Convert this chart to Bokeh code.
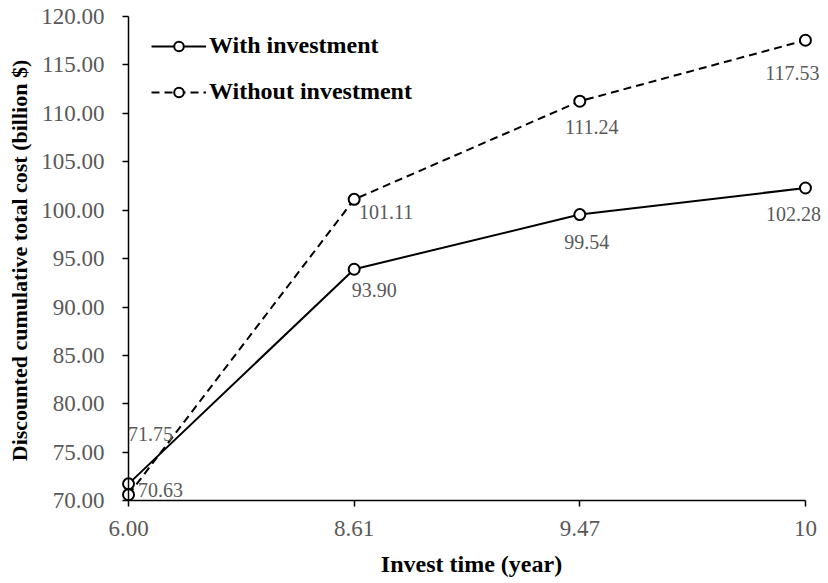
from bokeh.plotting import figure
from bokeh.models import (Range1d, FixedTicker, NumeralTickFormatter, ColumnDataSource,
                          Legend, LegendItem, LinearAxis)
from bokeh.core.properties import value
from bokeh.embed import file_html
from bokeh.resources import INLINE

categories = ["6.00", "8.61", "9.47", "10"]
with_investment = [71.75, 93.90, 99.54, 102.28]
without_investment = [70.63, 101.11, 111.24, 117.53]
y_ticks = [70, 75, 80, 85, 90, 95, 100, 105, 110, 115, 120]

xs = list(range(len(categories)))

# label offsets in screen pixels (style only)
with_dx = [22, 20, 7, -12]
with_dy = [-50, 21, 27, 26]
without_dx = [32, 32, 12, -13]
without_dy = [-5, 13, 26, 33]

FONT = "Liberation Serif"
GREY = "#595959"

p = figure(frame_width=704, frame_height=500, output_backend="svg", toolbar_location=None,
           x_range=Range1d(-0.04, 3.08), y_range=Range1d(69, 120.6),
           min_border_left=119, min_border_right=2, min_border_top=10, min_border_bottom=65)
p.outline_line_color = None
p.xgrid.visible = False
p.ygrid.visible = False

s_with = ColumnDataSource(dict(x=xs, y=with_investment, t=["%.2f" % v for v in with_investment],
                               dx=with_dx, dy=with_dy))
s_without = ColumnDataSource(dict(x=xs, y=without_investment, t=["%.2f" % v for v in without_investment],
                                  dx=without_dx, dy=without_dy))

l1 = p.line("x", "y", source=s_with, line_color="black", line_width=2)
m1 = p.scatter("x", "y", source=s_with, marker="circle", size=11, fill_color="white",
               line_color="black", line_width=2)
l2 = p.line("x", "y", source=s_without, line_color="black", line_width=2, line_dash="8 5")
m2 = p.scatter("x", "y", source=s_without, marker="circle", size=11, fill_color="white",
               line_color="black", line_width=2)

for src in (s_with, s_without):
    p.text("x", "y", text="t", source=src, x_offset="dx", y_offset="dy",
           text_align="center", text_baseline="middle", text_font=value(FONT),
           text_font_size="20px", text_color=GREY)

# label axes (normal positions): labels and titles only
for ax in (p.xaxis[0], p.yaxis[0]):
    ax.axis_line_color = None
    ax.major_tick_line_color = None
    ax.minor_tick_line_color = None
    ax.major_tick_in = 0
    ax.major_tick_out = 0
    ax.minor_tick_out = 0
    ax.major_label_text_font = FONT
    ax.major_label_text_font_size = "23px"
    ax.major_label_text_color = GREY
    ax.axis_label_text_font = FONT
    ax.axis_label_text_font_style = "bold"
    ax.axis_label_text_color = "black"

p.xaxis.axis_label_text_font_size = "24px"
p.yaxis.axis_label_text_font_size = "22px"
p.xaxis.bounds = (0, 3)
p.yaxis.bounds = (70, 120)
p.xaxis.ticker = FixedTicker(ticks=xs)
p.xaxis.major_label_overrides = {i: c for i, c in enumerate(categories)}
p.yaxis.ticker = FixedTicker(ticks=y_ticks)
p.yaxis.formatter = NumeralTickFormatter(format="0.00")
p.xaxis.axis_label = "Invest time (year)"
p.yaxis.axis_label = "Discounted cumulative total cost (billion $)"
p.xaxis.major_label_standoff = 10
p.yaxis.major_label_standoff = 15
p.xaxis.axis_label_standoff = 12
p.yaxis.axis_label_standoff = 6

# line/tick axes at data origin
def line_axis(loc, ticks, bounds):
    a = LinearAxis(fixed_location=loc, ticker=FixedTicker(ticks=ticks), bounds=bounds,
                   axis_line_color="black", axis_line_width=1.5,
                   major_tick_line_color="black", major_tick_line_width=1.5,
                   major_tick_in=0, major_tick_out=6, minor_tick_line_color=None,
                   major_label_text_font_size="0px", major_label_text_alpha=0)
    return a

p.add_layout(line_axis(70, xs, (0, 3)), "below")
p.add_layout(line_axis(0, y_ticks, (70, 120)), "left")

legend = Legend(items=[LegendItem(label="With investment", renderers=[l1, m1]),
                       LegendItem(label="Without investment", renderers=[l2, m2])],
                location=(32, 405), border_line_color=None, background_fill_alpha=0,
                padding=0, margin=0, spacing=19, glyph_width=55, glyph_height=24,
                label_height=24, label_standoff=3,
                label_text_font=FONT, label_text_font_size="24px",
                label_text_font_style="bold", label_text_color="black")
p.add_layout(legend)

open("out.html", "w").write(file_html(p, INLINE))
